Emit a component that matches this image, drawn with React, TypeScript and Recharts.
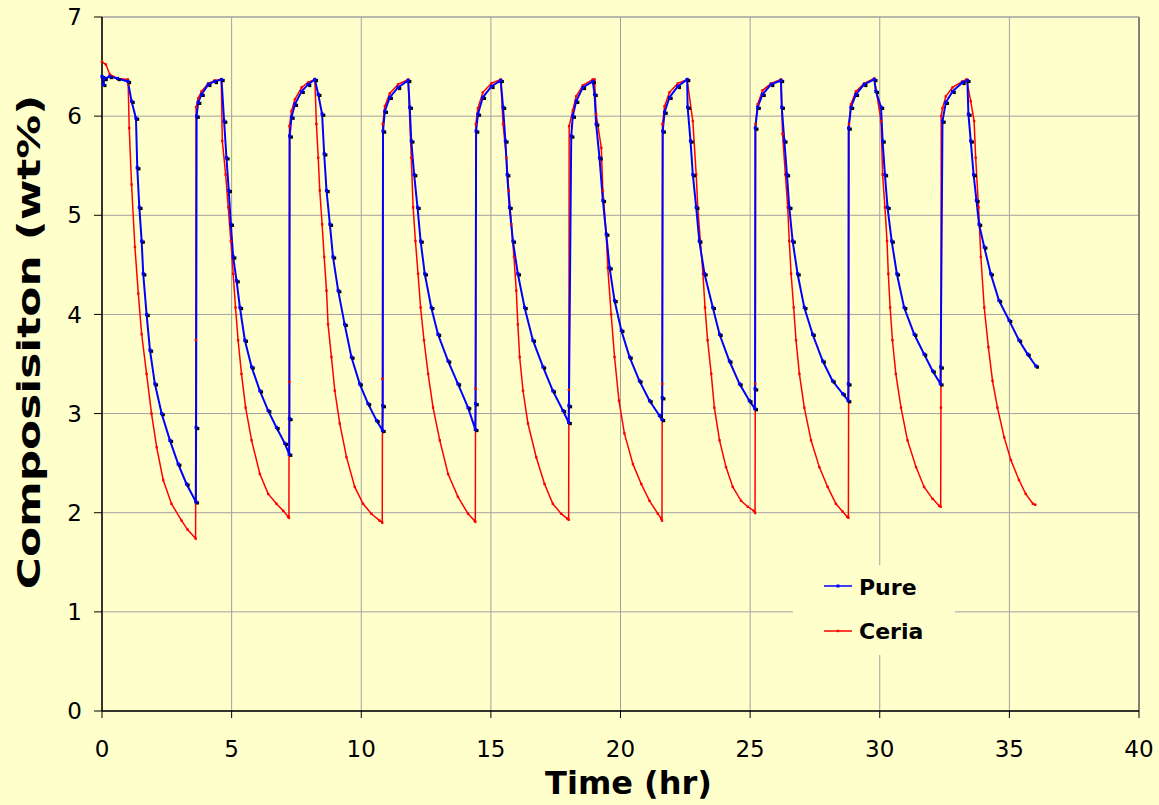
import { LineChart, Line, XAxis, YAxis, CartesianGrid, Legend, ReferenceLine } from 'recharts';

// [time (hr), composition (wt%)], cycle by cycle
const pure: [number, number][] = [
  [0, 6.4], [0.05, 6.32], [0.1, 6.38], [0.3, 6.4], [0.6, 6.38], [1.0, 6.35], [1.14, 6.15], [1.31, 5.98], [1.36, 5.48],
  [1.44, 5.08], [1.53, 4.74], [1.59, 4.41], [1.72, 4.0], [1.85, 3.64], [2.04, 3.3], [2.3, 3.0], [2.62, 2.73],
  [2.94, 2.49], [3.26, 2.29], [3.62, 2.11], [3.63, 2.86],
  [3.65, 6.0], [3.71, 6.14], [3.84, 6.22], [4.1, 6.32], [4.35, 6.35], [4.61, 6.37], [4.71, 5.95], [4.8, 5.58],
  [4.89, 5.25], [4.97, 4.91], [5.06, 4.58], [5.19, 4.34], [5.32, 4.07], [5.51, 3.74], [5.77, 3.47], [6.09, 3.23],
  [6.41, 3.03], [6.73, 2.86], [7.05, 2.7], [7.22, 2.59], [7.23, 2.95],
  [7.24, 5.8], [7.31, 5.99], [7.44, 6.12], [7.7, 6.25], [7.95, 6.32], [8.21, 6.37], [8.34, 6.22], [8.49, 6.02],
  [8.57, 5.62], [8.66, 5.25], [8.79, 4.91], [8.91, 4.58], [9.11, 4.24], [9.36, 3.9], [9.62, 3.57], [9.94, 3.3],
  [10.26, 3.1], [10.59, 2.93], [10.82, 2.83], [10.83, 3.08],
  [10.84, 5.85], [10.91, 6.05], [11.1, 6.19], [11.42, 6.29], [11.81, 6.36], [11.87, 6.09], [11.93, 5.75],
  [12.04, 5.41], [12.17, 5.08], [12.29, 4.74], [12.45, 4.41], [12.7, 4.07], [12.96, 3.8], [13.35, 3.53],
  [13.73, 3.3], [14.12, 3.06], [14.4, 2.84], [14.41, 3.1],
  [14.43, 5.85], [14.5, 6.02], [14.69, 6.19], [15.02, 6.3], [15.38, 6.36], [15.47, 6.09], [15.56, 5.75],
  [15.63, 5.41], [15.72, 5.08], [15.85, 4.74], [16.04, 4.41], [16.3, 4.07], [16.62, 3.74], [17.01, 3.47],
  [17.39, 3.23], [17.78, 3.03], [18.0, 2.91], [18.01, 3.08],
  [18.1, 5.8], [18.16, 6.0], [18.29, 6.15], [18.55, 6.29], [18.93, 6.35], [19.0, 6.22], [19.06, 5.92],
  [19.19, 5.58], [19.32, 5.15], [19.45, 4.81], [19.58, 4.47], [19.77, 4.14], [20.03, 3.84], [20.35, 3.57],
  [20.73, 3.33], [21.12, 3.13], [21.5, 2.98], [21.6, 2.94], [21.61, 3.16],
  [21.63, 5.85], [21.7, 6.04], [21.89, 6.19], [22.21, 6.3], [22.57, 6.37], [22.59, 6.09], [22.7, 5.75],
  [22.79, 5.41], [22.92, 5.08], [23.04, 4.74], [23.24, 4.41], [23.56, 4.07], [23.82, 3.8], [24.2, 3.53],
  [24.59, 3.3], [24.97, 3.13], [25.18, 3.05], [25.19, 3.25],
  [25.2, 5.88], [25.29, 6.09], [25.48, 6.22], [25.81, 6.32], [26.19, 6.36], [26.22, 6.09], [26.32, 5.75],
  [26.42, 5.41], [26.51, 5.08], [26.64, 4.74], [26.83, 4.41], [27.09, 4.07], [27.41, 3.8], [27.8, 3.53],
  [28.18, 3.33], [28.57, 3.2], [28.78, 3.13], [28.79, 3.3],
  [28.8, 5.88], [28.89, 6.09], [29.08, 6.22], [29.4, 6.32], [29.79, 6.37], [29.85, 6.25], [30.05, 6.09],
  [30.11, 5.75], [30.2, 5.41], [30.3, 5.08], [30.46, 4.74], [30.66, 4.41], [30.94, 4.07], [31.33, 3.8],
  [31.71, 3.6], [32.04, 3.43], [32.34, 3.3], [32.35, 3.47],
  [32.42, 5.95], [32.55, 6.14], [32.81, 6.25], [33.19, 6.34], [33.38, 6.36], [33.42, 6.02], [33.51, 5.75],
  [33.62, 5.41], [33.73, 5.15], [33.83, 4.91], [34.03, 4.68], [34.28, 4.41], [34.6, 4.14], [34.99, 3.94],
  [35.37, 3.74], [35.7, 3.6], [36.02, 3.48],
];

const ceria: [number, number][] = [
  [0, 6.55], [0.15, 6.52], [0.3, 6.42], [0.6, 6.38], [1.0, 6.37], [1.01, 6.32], [1.05, 5.88], [1.14, 5.31],
  [1.27, 4.68], [1.4, 4.21], [1.53, 3.8], [1.72, 3.4], [1.91, 3.0], [2.11, 2.66], [2.36, 2.33], [2.68, 2.09],
  [3.07, 1.92], [3.3, 1.83], [3.61, 1.74], [3.62, 3.74],
  [3.63, 6.09], [3.71, 6.18], [3.84, 6.25], [4.1, 6.33], [4.35, 6.36], [4.6, 6.37], [4.64, 5.75], [4.77, 5.41],
  [4.87, 5.08], [4.97, 4.74], [5.06, 4.41], [5.15, 4.07], [5.25, 3.74], [5.38, 3.4], [5.54, 3.06], [5.77, 2.73],
  [6.09, 2.39], [6.41, 2.19], [6.73, 2.09], [6.99, 2.02], [7.18, 1.96], [7.21, 1.95], [7.22, 3.32],
  [7.23, 5.9], [7.31, 6.05], [7.44, 6.17], [7.7, 6.29], [7.95, 6.34], [8.21, 6.37], [8.27, 5.92], [8.34, 5.58],
  [8.4, 5.25], [8.49, 4.91], [8.57, 4.58], [8.66, 4.24], [8.72, 3.9], [8.85, 3.57], [8.98, 3.23], [9.17, 2.9],
  [9.43, 2.56], [9.75, 2.26], [10.07, 2.09], [10.39, 1.99], [10.71, 1.92], [10.81, 1.9], [10.82, 3.35],
  [10.83, 5.92], [10.91, 6.1], [11.1, 6.23], [11.42, 6.32], [11.81, 6.37], [11.93, 5.58], [12.0, 5.08],
  [12.09, 4.74], [12.19, 4.41], [12.29, 4.07], [12.42, 3.74], [12.58, 3.4], [12.77, 3.06], [13.03, 2.73],
  [13.35, 2.39], [13.73, 2.16], [14.12, 1.99], [14.37, 1.92], [14.4, 1.91], [14.41, 3.25],
  [14.42, 5.92], [14.5, 6.08], [14.69, 6.24], [15.02, 6.33], [15.38, 6.37], [15.47, 5.92], [15.6, 5.58],
  [15.69, 5.25], [15.79, 4.91], [15.89, 4.58], [15.98, 4.24], [16.04, 3.9], [16.11, 3.57], [16.24, 3.23],
  [16.43, 2.9], [16.75, 2.56], [17.07, 2.29], [17.39, 2.09], [17.71, 1.99], [17.95, 1.94], [18.0, 1.93], [18.01, 3.24],
  [18.02, 5.9], [18.16, 6.06], [18.29, 6.2], [18.55, 6.31], [18.93, 6.37], [19.0, 6.37], [19.06, 6.02],
  [19.26, 5.68], [19.32, 5.25], [19.45, 4.81], [19.51, 4.47], [19.64, 4.0], [19.77, 3.57], [19.94, 3.13],
  [20.15, 2.8], [20.48, 2.49], [20.8, 2.29], [21.12, 2.12], [21.44, 1.99], [21.57, 1.94], [21.6, 1.92], [21.61, 3.3],
  [21.62, 5.92], [21.7, 6.1], [21.89, 6.24], [22.21, 6.33], [22.57, 6.37], [22.79, 5.95], [22.92, 5.41],
  [22.98, 5.08], [23.08, 4.74], [23.18, 4.41], [23.26, 4.07], [23.36, 3.74], [23.5, 3.4], [23.62, 3.06],
  [23.82, 2.73], [24.07, 2.46], [24.33, 2.26], [24.65, 2.12], [24.91, 2.06], [25.14, 2.02], [25.19, 2.0], [25.2, 3.3],
  [25.21, 5.92], [25.29, 6.12], [25.48, 6.26], [25.81, 6.33], [26.19, 6.37], [26.25, 5.82], [26.36, 5.41],
  [26.45, 5.08], [26.51, 4.74], [26.58, 4.41], [26.68, 4.07], [26.77, 3.74], [26.9, 3.4], [27.09, 3.06],
  [27.35, 2.73], [27.67, 2.46], [27.99, 2.26], [28.31, 2.09], [28.57, 2.01], [28.74, 1.96], [28.79, 1.95], [28.8, 3.3],
  [28.81, 5.92], [28.89, 6.12], [29.08, 6.25], [29.4, 6.33], [29.79, 6.38], [30.05, 5.95], [30.11, 5.41],
  [30.2, 5.08], [30.28, 4.74], [30.33, 4.41], [30.4, 4.07], [30.49, 3.74], [30.62, 3.4], [30.82, 3.06],
  [31.07, 2.73], [31.4, 2.46], [31.71, 2.26], [32.04, 2.14], [32.29, 2.07], [32.35, 2.06], [32.36, 3.06],
  [32.37, 6.0], [32.42, 6.08], [32.55, 6.2], [32.81, 6.29], [33.19, 6.35], [33.35, 6.37], [33.51, 6.15],
  [33.64, 5.95], [33.7, 5.58], [33.81, 5.08], [33.9, 4.58], [34.03, 4.07], [34.19, 3.67], [34.35, 3.33],
  [34.54, 3.06], [34.8, 2.76], [35.06, 2.53], [35.37, 2.33], [35.63, 2.19], [35.91, 2.09], [36.0, 2.08],
];

const xTicks = [0, 5, 10, 15, 20, 25, 30, 35, 40];
const yTicks = [0, 1, 2, 3, 4, 5, 6, 7];
const seriesNames = ['Pure', 'Ceria'];

const BG = '#FFFFCC';
const FONT = '"DejaVu Sans", Verdana, sans-serif';

const pureData = pure.map(([x, y]) => ({ x, y }));
const ceriaData = ceria.map(([x, y]) => ({ x, y }));

const PureDot = (props: any) => {
  const { cx, cy, index } = props;
  if (cx == null || cy == null) return <g key={`pd-${index}`} />;
  return (
    <g key={`pd-${index}`}>
      <rect x={cx} y={cy - 0.5} width={3.2} height={3.2} fill="#000" />
      <rect x={cx - 1.6} y={cy - 1.6} width={3.2} height={3.2} fill="#0000FF" />
    </g>
  );
};

const CeriaDot = (props: any) => {
  const { cx, cy, index } = props;
  if (cx == null || cy == null) return <g key={`cd-${index}`} />;
  return <rect key={`cd-${index}`} x={cx - 1.2} y={cy - 1.2} width={2.4} height={2.4} fill="#FF0000" />;
};

const renderLegend = () => (
  <div style={{ width: 162, height: 90, background: BG }}>
    <svg width={162} height={90}>
      <line x1={31} x2={59} y1={21} y2={21} stroke="#0000FF" strokeWidth={1.5} />
      <rect x={43.5} y={19.5} width={3} height={3} fill="#0000FF" />
      <text x={66} y={30} fontFamily={FONT} fontWeight="bold" fontSize={22} fill="#000">{seriesNames[0]}</text>
      <line x1={31} x2={59} y1={66} y2={66} stroke="#FF0000" strokeWidth={1.5} />
      <rect x={43.8} y={64.8} width={2.4} height={2.4} fill="#FF0000" />
      <text x={66} y={74} fontFamily={FONT} fontWeight="bold" fontSize={22} fill="#000">{seriesNames[1]}</text>
    </svg>
  </div>
);

export default function App() {
  const tickStyle = { fill: '#000', fontSize: 23, fontFamily: FONT };
  return (
    <div style={{ position: 'absolute', left: 0, top: 0, width: 1159, height: 805, background: BG, fontFamily: FONT }}>
      <LineChart width={1159} height={805} margin={{ top: 17, right: 20, bottom: 0, left: 0 }}>
        <CartesianGrid stroke="#A0A0A0" strokeWidth={1} />
        <XAxis
          type="number"
          dataKey="x"
          domain={[0, 40]}
          ticks={xTicks}
          interval={0}
          height={94}
          tick={tickStyle}
          tickSize={7}
          tickMargin={23}
          axisLine={{ stroke: '#000', strokeWidth: 1.5 }}
          tickLine={{ stroke: '#000' }}
          label={{
            content: (p: any) => {
              const vb = p.viewBox || { x: 102, y: 711, width: 1037, height: 94 };
              return (
                <text x={vb.x + vb.width / 2 + 8} y={vb.y + 83} textAnchor="middle"
                  fontSize={32} fontWeight="bold" fill="#000" fontFamily={FONT}>
                  Time (hr)
                </text>
              );
            },
          }}
        />
        <YAxis
          type="number"
          domain={[0, 7]}
          ticks={yTicks}
          interval={0}
          width={102}
          tick={tickStyle}
          tickSize={8}
          tickMargin={12}
          axisLine={{ stroke: '#000', strokeWidth: 1.5 }}
          tickLine={{ stroke: '#000' }}
          label={{
            content: (p: any) => {
              const vb = p.viewBox || { x: 0, y: 17, width: 102, height: 694 };
              const cx = 29;
              const cy = vb.y + vb.height / 2 - 22;
              return (
                <text transform={`translate(${cx} ${cy}) rotate(-90) scale(1.37 1)`} x={0} y={0}
                  textAnchor="middle" dominantBaseline="central"
                  fontSize={32} fontWeight="bold" fill="#000" fontFamily={FONT}>
                  Composisiton (wt%)
                </text>
              );
            },
          }}
        />
        <ReferenceLine x={40} stroke="#666" strokeWidth={1.5} ifOverflow="extendDomain" />
        <ReferenceLine y={7} stroke="#A0A0A0" />
        <Line data={ceriaData} dataKey="y" name={seriesNames[1]} stroke="#FF0000" strokeWidth={1.5} dot={CeriaDot} activeDot={false} isAnimationActive={false} />
        <Line data={pureData} dataKey="y" name={seriesNames[0]} stroke="#0000FF" strokeWidth={2} dot={PureDot} activeDot={false} isAnimationActive={false} />
        <Legend
          layout="vertical"
          align="center"
          verticalAlign="middle"
          content={renderLegend}
          wrapperStyle={{ left: 793, top: 565, width: 162, height: 90 }}
        />
      </LineChart>
    </div>
  );
}
